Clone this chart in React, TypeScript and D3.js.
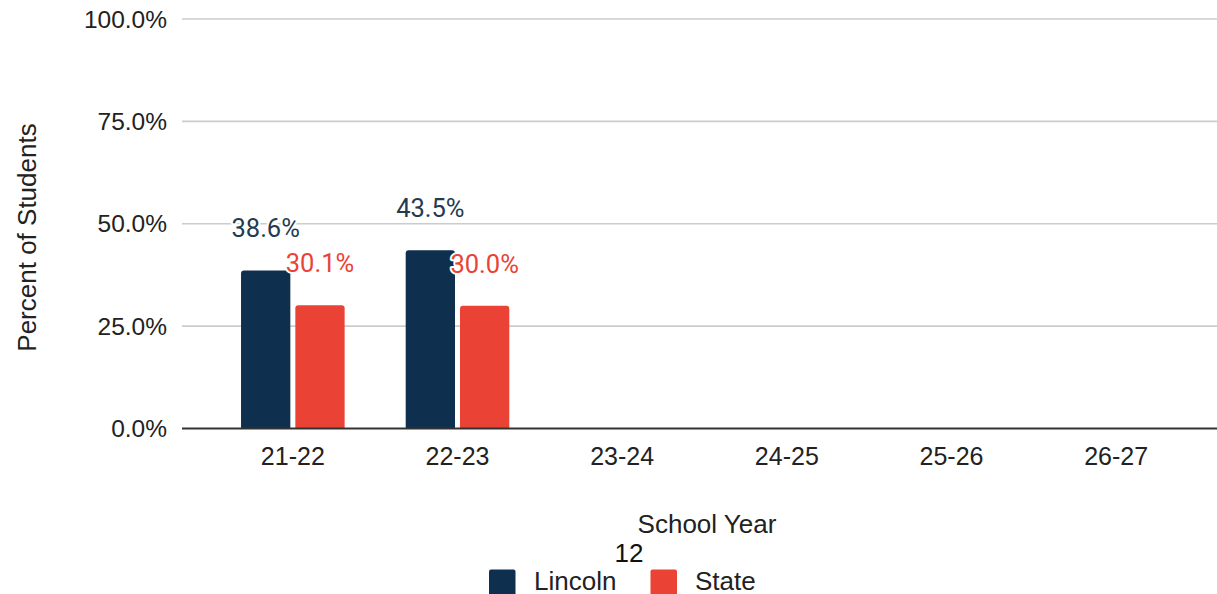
import React from "react";
import * as d3 from "d3";

const categories = ["21-22", "22-23", "23-24", "24-25", "25-26", "26-27"];
const seriesNames = ["Lincoln", "State"];
const lincolnValues: (number | null)[] = [38.6, 43.5, null, null, null, null];
const stateValues: (number | null)[] = [30.1, 30.0, null, null, null, null];
const yTicks = [0, 25, 50, 75, 100];
const colors = ["#0f2f4e", "#ea4335"];
const labelColors = ["#233b52", "#ea4335"];

const W = 1217;
const H = 594;
const AXIS_FONT = "'Liberation Sans', Arial, sans-serif";
const LABEL_FONT = "Roboto, 'Liberation Sans', sans-serif";

function topRoundedRect(x: number, y: number, w: number, h: number, r: number) {
  const rr = Math.min(r, h, w / 2);
  return `M${x},${y + h}V${y + rr}Q${x},${y} ${x + rr},${y}H${x + w - rr}Q${x + w},${y} ${x + w},${y + rr}V${y + h}Z`;
}

export default function App() {
  const x0 = d3.scaleBand<string>().domain(categories).range([210.5, 1198.5]).padding(0);
  const groupW = 103.6;
  const x1 = d3.scaleBand<string>().domain(seriesNames).range([0, groupW]).paddingInner(0.092).paddingOuter(0);
  const y = d3.scaleLinear().domain([0, 100]).range([428.5, 19]);
  const fmt = (v: number) => v.toFixed(1) + "%";
  const seriesValues = [lincolnValues, stateValues];

  return (
    <svg width={W} height={H} style={{ position: "absolute", left: 0, top: 0, background: "#fff" }}>
      <rect x={0} y={0} width={W} height={H} fill="#fff" />
      {/* gridlines */}
      {yTicks.filter((t) => t !== 0).map((t) => (
        <line key={t} x1={182} x2={W} y1={y(t)} y2={y(t)} stroke="#cccccc" strokeWidth={1.6} />
      ))}
      {/* y tick labels */}
      {yTicks.map((t) => (
        <text key={"yt" + t} x={167} y={y(t)} dy="0.35em" textAnchor="end" fontFamily={AXIS_FONT} fontSize={24.5} fill="#222">
          {fmt(t)}
        </text>
      ))}
      {/* bars */}
      {categories.map((c, i) => {
        const gx = x0(c)! + (x0.bandwidth() - groupW) / 2;
        return seriesNames.map((s, si) => {
          const v = seriesValues[si][i];
          if (v == null) return null;
          const bx = gx + x1(s)!;
          const by = y(v);
          return (
            <path key={c + s} d={topRoundedRect(bx, by, x1.bandwidth(), y(0) - by, 3)} fill={colors[si]} />
          );
        });
      })}
      {/* data labels */}
      {categories.map((c, i) => {
        const gx = x0(c)! + (x0.bandwidth() - groupW) / 2;
        return seriesNames.map((s, si) => {
          const v = seriesValues[si][i];
          if (v == null) return null;
          const cx = gx + x1(s)! + x1.bandwidth() / 2;
          return (
            <text key={"l" + c + s} x={cx} y={y(v) - 33} textAnchor="middle" fontFamily={LABEL_FONT} fontSize={25.5}
              fill={labelColors[si]} stroke="#fff" strokeWidth={4} strokeLinejoin="round" style={{ paintOrder: "stroke" }}>
              {fmt(v)}
            </text>
          );
        });
      })}
      {/* x axis line */}
      <line x1={182} x2={W} y1={y(0)} y2={y(0)} stroke="#333" strokeWidth={2} />
      {/* x tick labels */}
      {categories.map((c) => (
        <text key={"xt" + c} x={x0(c)! + x0.bandwidth() / 2} y={465} textAnchor="middle" fontFamily={AXIS_FONT} fontSize={25} fill="#222">
          {c}
        </text>
      ))}
      {/* axis titles */}
      <text x={707} y={533} textAnchor="middle" fontFamily={AXIS_FONT} fontSize={26} fill="#222">School Year</text>
      <text transform="translate(36,237.5) rotate(-90)" textAnchor="middle" fontFamily={AXIS_FONT} fontSize={26} fill="#222">
        Percent of Students
      </text>
      <text x={629} y={562} textAnchor="middle" fontFamily={AXIS_FONT} fontSize={26} fill="#111">12</text>
      {/* legend */}
      <rect x={489} y={569.5} width={26.5} height={30} rx={2} fill={colors[0]} />
      <text x={534} y={590} fontFamily={AXIS_FONT} fontSize={26} fill="#222">{seriesNames[0]}</text>
      <rect x={650.5} y={569.5} width={26.5} height={30} rx={2} fill={colors[1]} />
      <text x={695} y={590} fontFamily={AXIS_FONT} fontSize={26} fill="#222">{seriesNames[1]}</text>
    </svg>
  );
}
